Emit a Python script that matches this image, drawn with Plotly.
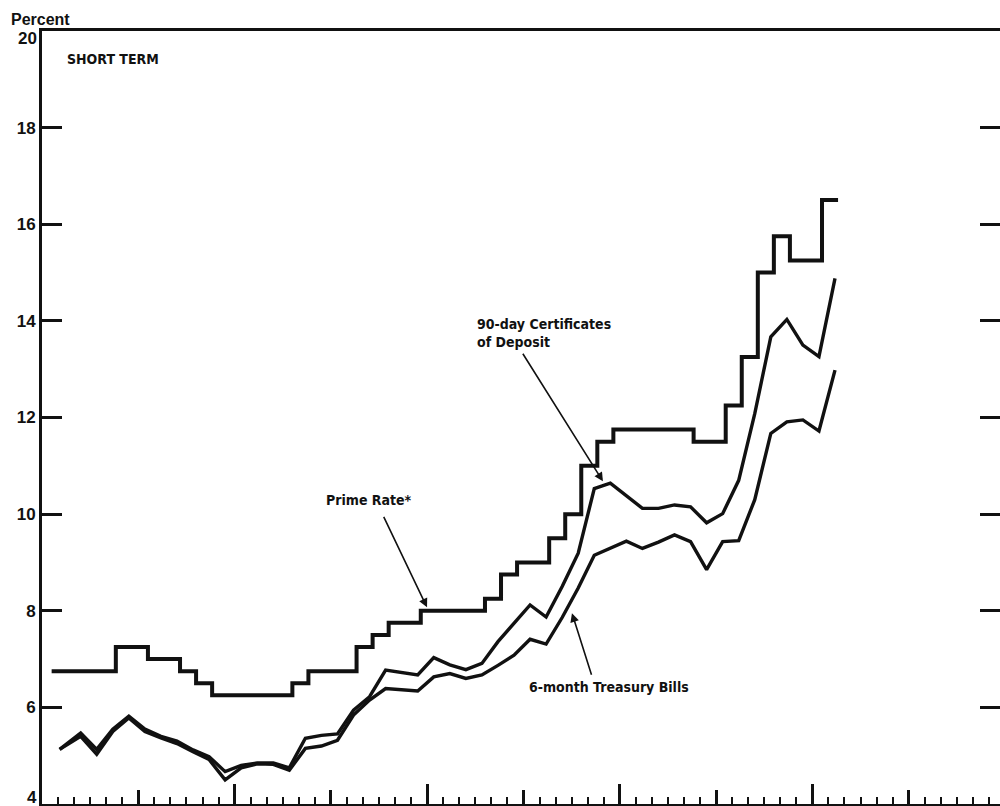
import numpy as np
import plotly.graph_objects as go

# ---------------- data (months counted from the left edge of the axis) ----------------
# Prime rate: one value per month segment (segments start ~0.6 month into each month)
prime_rate = [6.75, 6.75, 6.75, 6.75, 7.25, 7.25, 7.0, 7.0, 6.75, 6.5,
              6.25, 6.25, 6.25, 6.25, 6.25, 6.5, 6.75, 6.75, 6.75, 7.25,
              7.5, 7.75, 7.75, 8.0, 8.0, 8.0, 8.0, 8.25, 8.75, 9.0,
              9.0, 9.5, 10.0, 11.0, 11.5, 11.75, 11.75, 11.75, 11.75, 11.75,
              11.5, 11.5, 12.25, 13.25, 15.0, 15.75, 15.25, 15.25, 16.5]
prime_start_month = 0.6

# 90-day certificates of deposit, monthly
cd_rate = [5.13, 5.47, 5.13, 5.55, 5.82, 5.55, 5.40, 5.30, 5.12, 4.98,
           4.67, 4.80, 4.85, 4.85, 4.75, 5.36, 5.42, 5.45, 5.94, 6.22,
           6.77, 6.72, 6.67, 7.03, 6.88, 6.78, 6.91, 7.36, 7.74, 8.12,
           7.87, 8.50, 9.19, 10.53, 10.64, 10.38, 10.12, 10.12, 10.19, 10.15,
           9.82, 10.01, 10.70, 12.08, 13.67, 14.03, 13.50, 13.26, 14.88]

# 6-month Treasury bills, monthly
tb_rate = [5.13, 5.40, 5.03, 5.50, 5.78, 5.50, 5.37, 5.25, 5.08, 4.92,
           4.50, 4.75, 4.83, 4.82, 4.70, 5.15, 5.20, 5.32, 5.84, 6.15,
           6.39, 6.37, 6.34, 6.63, 6.70, 6.60, 6.67, 6.87, 7.08, 7.41,
           7.31, 7.86, 8.47, 9.15, 9.30, 9.44, 9.29, 9.42, 9.57, 9.43,
           8.85, 9.43, 9.45, 10.30, 11.67, 11.91, 11.95, 11.72, 12.98]

# observation months for the two market rates (first reading early, then mid-month)
rate_months = np.concatenate([[1.1], np.arange(2, len(cd_rate) + 1) + 0.41])

y_ticks = [4, 6, 8, 10, 12, 14, 16, 18, 20]
x_months_total = 59.69

# ---------------- figure ----------------
prime_x = prime_start_month + np.arange(len(prime_rate) + 1)
prime_y = prime_rate + [prime_rate[-1]]

ink = "#111111"
fig = go.Figure()
fig.add_trace(go.Scatter(x=prime_x, y=prime_y, mode="lines", line_shape="hv",
                         line=dict(color=ink, width=4), hoverinfo="skip", showlegend=False))
fig.add_trace(go.Scatter(x=rate_months, y=cd_rate, mode="lines",
                         line=dict(color=ink, width=3.4), showlegend=False))
fig.add_trace(go.Scatter(x=rate_months, y=tb_rate, mode="lines",
                         line=dict(color=ink, width=3.4), showlegend=False))
# invisible trace to carry the yearly tick axis
fig.add_trace(go.Scatter(x=[0], y=[4], xaxis="x2", mode="markers",
                         marker=dict(opacity=0), showlegend=False, hoverinfo="skip"))

label_font = dict(family="Liberation Sans Narrow, DejaVu Sans Condensed, Arial Narrow, Roboto Condensed, Liberation Sans",
                  size=14, color=ink, weight="bold")
tick_font = dict(family="Liberation Sans, Arial, Helvetica", size=17, color=ink, weight="bold")

fig.update_layout(
    width=1000, height=806,
    margin=dict(l=42, r=0, t=31, b=2, autoexpand=False),
    paper_bgcolor="white", plot_bgcolor="white",
    xaxis=dict(range=[0, x_months_total], showticklabels=False, showgrid=False, zeroline=False,
               automargin=False,
               ticks="inside", tick0=0, dtick=6, ticklen=14, tickwidth=2.5, tickcolor=ink,
               minor=dict(ticks="inside", dtick=1, ticklen=7, tickwidth=2, tickcolor=ink),
               showline=True, linewidth=3, linecolor=ink, mirror=True),
    xaxis2=dict(overlaying="x", matches="x", anchor="y", side="bottom", automargin=False,
                showticklabels=False, showgrid=False, zeroline=False, showline=False,
                ticks="inside", tick0=0, dtick=12, ticklen=20, tickwidth=3, tickcolor=ink),
    yaxis=dict(range=[4, 20], tickvals=y_ticks, automargin=False,
               ticktext=["" if v in (4, 20) else str(v) for v in y_ticks],
               ticks="inside", ticklen=20, tickwidth=2.5, tickcolor=ink,
               tickfont=tick_font, showgrid=False, zeroline=False,
               showline=True, linewidth=3, linecolor=ink, mirror="ticks"),
)

annotations = []
# edge tick labels nudged inside the frame like the original
for v, shift in ((20, -7), (4, 7)):
    annotations.append(dict(x=0, y=v, xref="paper", yref="y", text=str(v), showarrow=False,
                            xanchor="right", yanchor="middle", xshift=-3, yshift=shift, font=tick_font))
annotations += [
    dict(x=-0.034, y=1.0145, xref="paper", yref="paper", text="Percent", showarrow=False,
         xanchor="left", yanchor="middle", font=dict(tick_font, size=16)),
    dict(x=1.43, y=19.43, text="SHORT TERM", showarrow=False, xanchor="left", yanchor="middle",
         font=label_font),
    dict(x=17.6, y=10.29, text="Prime Rate*", showarrow=False, xanchor="left", yanchor="middle",
         font=label_font),
    dict(x=26.98, y=13.93, text="90-day Certificates", showarrow=False, xanchor="left",
         yanchor="middle", font=label_font),
    dict(x=26.98, y=13.56, text="of Deposit", showarrow=False, xanchor="left", yanchor="middle",
         font=label_font),
    dict(x=30.22, y=6.42, text="6-month Treasury Bills", showarrow=False, xanchor="left",
         yanchor="middle", font=label_font),
]
for tip_x, tip_y, ax, ay in ((23.99, 8.07, -44, -92), (34.95, 10.68, -81, -129), (33.02, 7.95, 20, 63)):
    annotations.append(dict(x=tip_x, y=tip_y, text="", showarrow=True, ax=ax, ay=ay,
                            arrowhead=2, arrowsize=1.1, arrowwidth=1.6, arrowcolor=ink, standoff=0))
fig.update_layout(annotations=annotations)

# remove the browser's default page margin so the 1000x806 figure fills the window exactly
fig.write_html("out.html", config={"displayModeBar": False},
               post_script="document.body.style.margin='0';document.body.style.overflow='hidden';")
